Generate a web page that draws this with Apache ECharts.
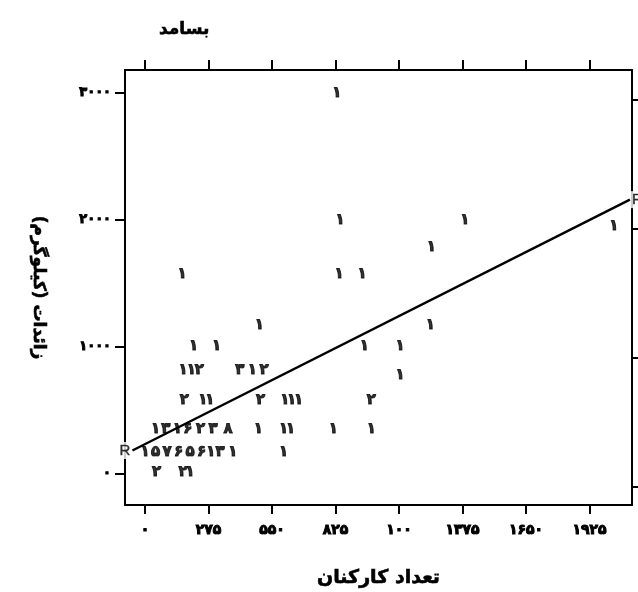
<!DOCTYPE html>
<html>
<head>
<meta charset="utf-8">
<script src="https://cdn.jsdelivr.net/npm/echarts@6/dist/echarts.min.js"></script>
<style>
  html, body { margin: 0; padding: 0; background: #fff; }
  #main { width: 638px; height: 592px; }
</style>
</head>
<body>
<div id="main"></div>
<script>
// نقاط بسامد: تعداد کارکنان، زائدات (کیلوگرم)، بسامد
var freqX = [
  830,
  845, 1385,
  1240,
  160, 840, 940,
  495, 1235,
  210, 310, 950, 1105,
  165, 200, 235, 410, 465, 515, 1105,
  170, 250, 280, 500, 605, 635, 665, 980,
  45, 90, 140, 185, 240, 295, 360, 490, 600, 630, 815, 980,
  0, 45, 95, 145, 195, 245, 285, 325, 380, 600,
  50, 165, 195,
  2030
];
var freqY = [
  3000,
  2000, 2000,
  1790,
  1575, 1575, 1575,
  1170, 1170,
  1010, 1010, 1010, 1010,
  820, 820, 820, 820, 820, 820, 780,
  585, 585, 585, 585, 585, 585, 585, 585,
  355, 355, 355, 355, 355, 355, 355, 355, 355, 355, 355, 355,
  175, 175, 175, 175, 175, 175, 175, 175, 175, 175,
  15, 15, 15,
  1950
];
var freqCount = [
  1,
  1, 1,
  1,
  1, 1, 1,
  1, 1,
  1, 1, 1, 1,
  1, 1, 2, 3, 1, 2, 1,
  2, 1, 1, 2, 1, 1, 1, 2,
  1, 3, 1, 6, 2, 3, 8, 1, 1, 1, 1, 1,
  1, 5, 7, 6, 5, 6, 1, 3, 1, 1,
  2, 2, 1,
  1
];

// خط رگرسیون (دو سر R)
var fitX = [-55, 2100];
var fitY = [185, 2160];

var xTickValues = [0, 275, 550, 825, 1100, 1375, 1650, 1925];
var xTickLabels = ['۰', '۲۷۵', '۵۵۰', '۸۲۵', '۱۰۰', '۱۳۷۵', '۱۶۵۰', '۱۹۲۵'];
var yTickValues = [0, 1000, 2000, 3000];
var yTickLabels = ['۰', '۱۰۰۰', '۲۰۰۰', '۳۰۰۰'];

var faDigits = '۰۱۲۳۴۵۶۷۸۹';
function toFa(n) {
  return String(n).replace(/[0-9]/g, function (d) { return faDigits[+d]; });
}

var points = freqX.map(function (x, i) { return [x, freqY[i], freqCount[i]]; });
var fitLine = fitX.map(function (x, i) { return [x, fitY[i]]; });

var font = 'DejaVu Sans';
var heavy = { fontFamily: font, fontWeight: 'bold', color: '#000', textBorderColor: '#000', textBorderWidth: 1 };
var frameLine = { onZero: false, lineStyle: { color: '#000', width: 2 } };
var rLabel = {
  show: true,
  formatter: 'R',
  distance: 1,
  fontFamily: 'Liberation Sans',
  fontSize: 15,
  color: '#000',
  textBorderColor: '#000',
  textBorderWidth: 0.4,
  backgroundColor: '#fff',
  padding: [1, 1]
};

var chart = echarts.init(document.getElementById('main'));
chart.setOption({
  animation: false,
  backgroundColor: '#fff',
  title: {
    text: 'بسامد',
    left: 154,
    top: 16,
    textStyle: Object.assign({}, heavy, { fontSize: 17, textBorderWidth: 0.6 })
  },
  grid: { left: 125, right: 6, top: 70, bottom: 87, outerBoundsMode: 'none' },
  xAxis: [
    {
      type: 'value',
      position: 'bottom',
      min: -87,
      max: 2109,
      name: 'تعداد کارکنان',
      nameLocation: 'middle',
      nameGap: 64,
      nameTextStyle: Object.assign({}, heavy, { fontSize: 19, textBorderWidth: 0.6 }),
      axisLine: frameLine,
      axisTick: { length: 9, customValues: xTickValues, lineStyle: { color: '#000', width: 2 } },
      axisLabel: Object.assign({}, heavy, {
        customValues: xTickValues,
        margin: 18,
        fontSize: 14,
        formatter: function (v) { return xTickLabels[xTickValues.indexOf(v)]; }
      }),
      splitLine: { show: false }
    },
    {
      type: 'value',
      position: 'top',
      min: -87,
      max: 2109,
      axisLine: frameLine,
      axisTick: { length: 10, customValues: xTickValues, lineStyle: { color: '#000', width: 2 } },
      axisLabel: { show: false },
      splitLine: { show: false }
    }
  ],
  yAxis: [
    {
      type: 'value',
      position: 'left',
      min: -244,
      max: 3181,
      name: 'زائدات (کیلوگرم)',
      nameLocation: 'middle',
      nameRotate: -90,
      nameGap: 78,
      nameTextStyle: Object.assign({}, heavy, { fontSize: 17, textBorderWidth: 0.6 }),
      axisLine: frameLine,
      axisTick: { length: 10, customValues: yTickValues, lineStyle: { color: '#000', width: 2 } },
      axisLabel: Object.assign({}, heavy, {
        customValues: yTickValues,
        margin: 14,
        fontSize: 13,
        formatter: function (v) { return yTickLabels[yTickValues.indexOf(v)]; }
      }),
      splitLine: { show: false }
    },
    {
      type: 'value',
      position: 'right',
      min: -140,
      max: 3233,
      axisLine: frameLine,
      axisTick: { length: 8, customValues: yTickValues, lineStyle: { color: '#000', width: 2 } },
      axisLabel: { show: false },
      splitLine: { show: false }
    }
  ],
  series: [
    {
      type: 'scatter',
      data: points,
      symbolSize: 0,
      label: Object.assign({}, heavy, {
        show: true,
        position: 'inside',
        fontSize: 15,
        formatter: function (p) { return toFa(p.value[2]); }
      })
    },
    {
      type: 'line',
      data: fitLine,
      symbol: 'none',
      clip: false,
      lineStyle: { color: '#000', width: 2.4 },
      z: 3
    },
    {
      type: 'scatter',
      data: [
        { value: fitLine[0], label: Object.assign({}, rLabel, { position: 'left' }) },
        { value: fitLine[1], label: Object.assign({}, rLabel, { position: 'right' }) }
      ],
      symbolSize: 0,
      clip: false,
      z: 4
    }
  ]
});
</script>
</body>
</html>
